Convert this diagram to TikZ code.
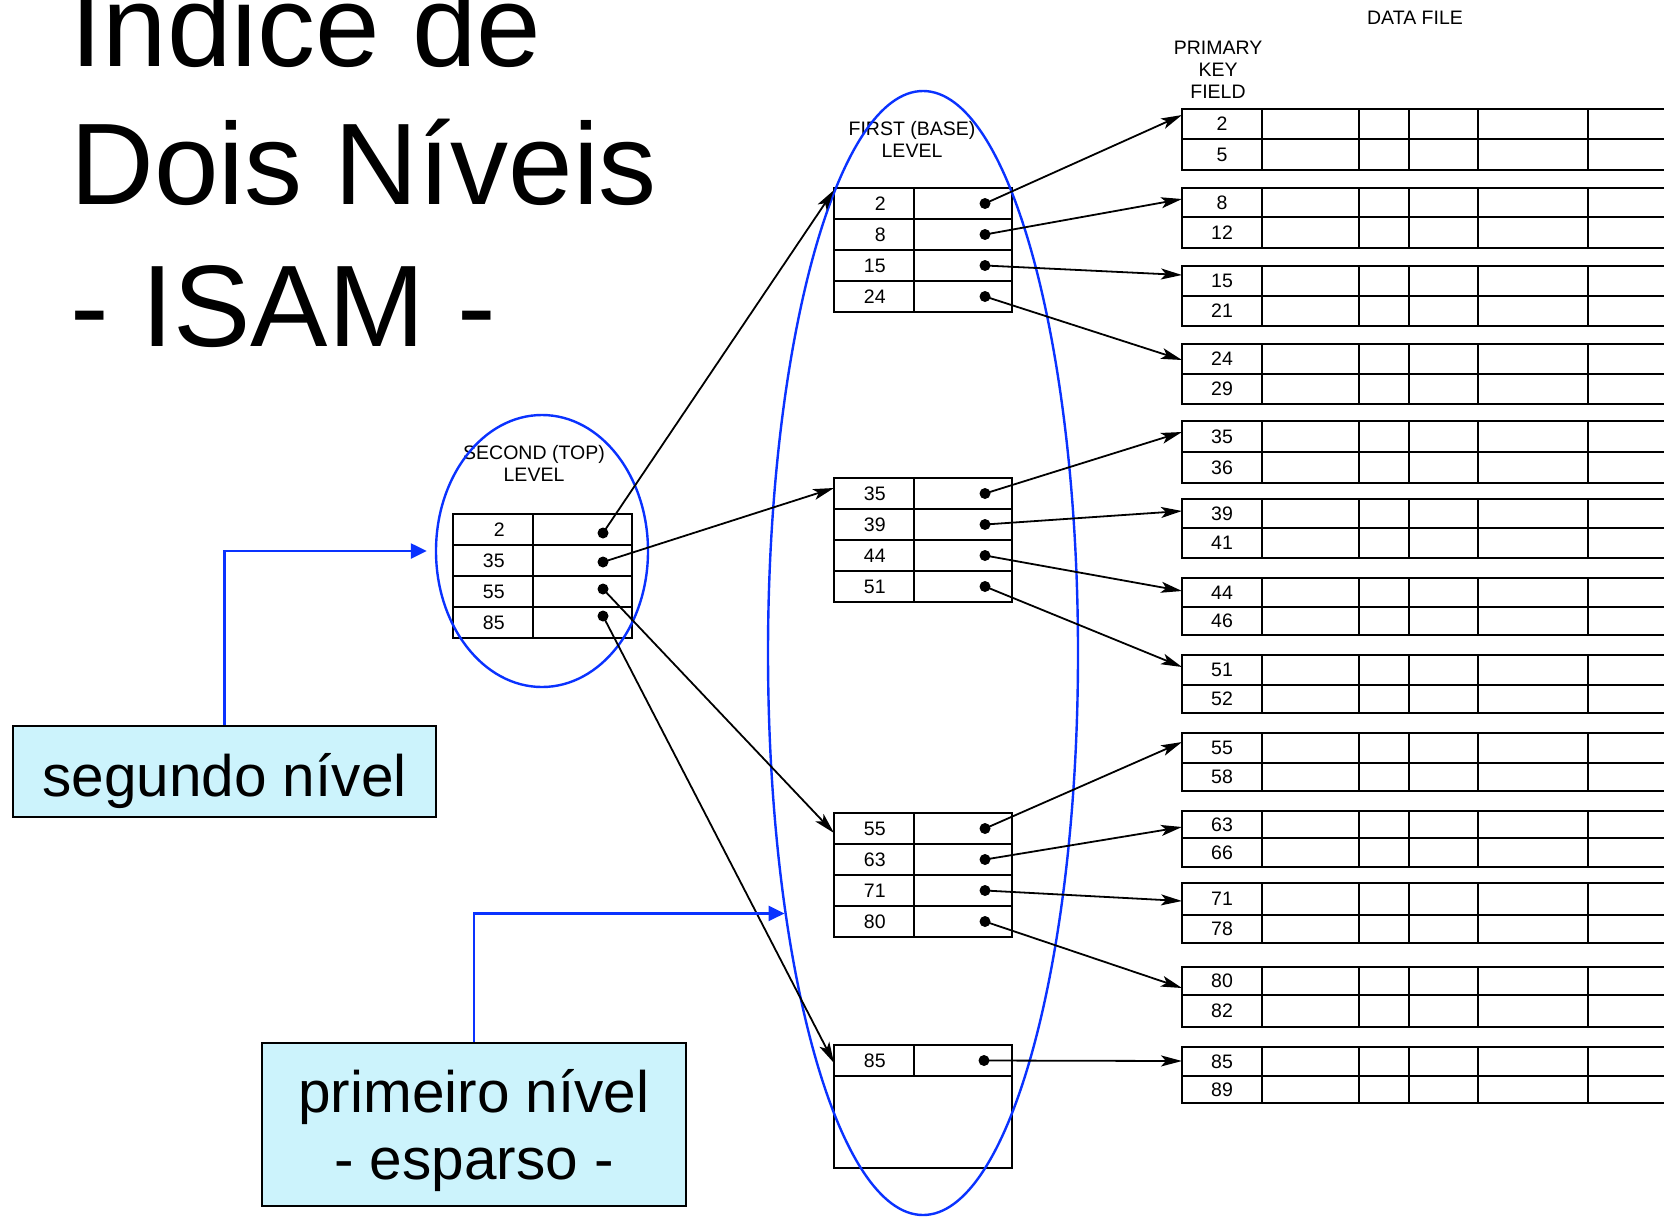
\documentclass[tikz,border=0pt]{standalone}
\usepackage{fontspec}
\setmainfont{Liberation Sans}
\usetikzlibrary{arrows.meta,shapes.geometric,calc}
\definecolor{hlblue}{RGB}{10,50,255}
\definecolor{boxcyan}{RGB}{204,243,252}
\begin{document}
\begin{tikzpicture}[x=0.5pt,y=-0.5pt,
  tbl/.style={line width=1pt},
  iblock/.style={draw,line width=1pt,anchor=north west,minimum width=89pt,inner sep=0pt,outer sep=0pt},
  dbox/.style={draw,line width=1pt,anchor=north west,minimum width=259pt,inner sep=0pt,outer sep=0pt},
  arr/.style={line width=0.9pt,-{Stealth[length=10.5pt,width=5.5pt,inset=2.5pt]}},
  ptr/.style={circle,fill=black,inner sep=0pt,minimum size=5.5pt},
  smalltxt/.style={font=\fontsize{9.75}{11}\selectfont,inner sep=0pt},
  titletxt/.style={font=\fontsize{58}{70}\selectfont,inner sep=0pt,anchor=base west},
  lbl/.style={draw,fill=boxcyan,line width=1pt,inner sep=0pt,font=\fontsize{29.25}{33.5}\selectfont,align=center},
  blueell/.style={draw=hlblue,line width=1.2pt,ellipse,inner sep=0pt},
  blueline/.style={draw=hlblue,line width=1.2pt,-{Triangle[length=8pt,width=7.5pt]}}
]
\useasboundingbox (0,0) rectangle (1664,1216);
\clip (0,0) rectangle (1664,1216);

% title
\node[titletxt] (T1) at (70,66) {Índice de};
\node[titletxt] (T2) at (70,204) {Dois Níveis};
\node[titletxt] (T3) at (70,346) {- ISAM -};

% data file
\node[smalltxt] (DF) at (1415,18) {DATA FILE};
\node[smalltxt,align=center] (PK) at (1218,69.5) {PRIMARY\\KEY\\FIELD};
\foreach \i/\tp/\md/\bt/\ka/\kb in {1/109/139/170/2/5, 2/188/217/248/8/12, 3/266/296/326/15/21, 4/344/374/404/24/29, 5/421/452/483/35/36, 6/499/528/558/39/41, 7/578/607/635/44/46, 8/655/685/713/51/52, 9/733/763/791/55/58, 10/811/838/867/63/66, 11/883/915/943/71/78, 12/967/995/1027/80/82, 13/1047/1076/1103/85/89}{
  \pgfmathsetmacro\hh{(\bt-\tp)/2}
  \node[dbox,minimum height=\hh pt] (G\i) at (1182,\tp) {};
  \draw[tbl] ($(G\i.north west)+(0,\md-\tp)$) -- ++(520,0);
  \foreach \c in {80,177,227,296,406} \draw[tbl] ($(G\i.north west)+(\c,0)$) -- ++(0,\bt-\tp);
  \node[smalltxt] (ga\i) at ($(G\i.north west)+(40,{(\md-\tp)/2})$) {\ka};
  \node[smalltxt] (gb\i) at ($(G\i.north west)+(40,{(\md+\bt)/2-\tp})$) {\kb};
}

% first level blocks
\node[smalltxt,align=center] (FL) at (912,139) {FIRST (BASE)\\LEVEL};
\foreach \bi/\by/\ka/\kb/\kc/\kd in {1/188/2/8/15/24, 2/478/35/39/44/51, 3/813/55/63/71/80}{
  \node[iblock,minimum height=62pt] (B\bi) at (834,\by) {};
  \draw[tbl] ($(B\bi.north west)+(80,0)$) -- ++(0,124);
  \foreach \r in {1,2,3} \draw[tbl] ($(B\bi.north west)+(0,31*\r)$) -- ++(178,0);
  \foreach \k/\v in {1/\ka,2/\kb,3/\kc,4/\kd}{
    \node[smalltxt,anchor=east] (k\bi\k) at ($(B\bi.north west)+(52,{15.5+31*(\k-1)})$) {\v};
    \node[ptr] (p\bi\k) at ($(B\bi.north west)+(151,{15.5+31*(\k-1)})$) {};
  }
}
\node[iblock,minimum height=61.5pt] (B4) at (834,1045) {};
\draw[tbl] ($(B4.north west)+(80,0)$) -- ++(0,31);
\draw[tbl] ($(B4.north west)+(0,31)$) -- ++(178,0);
\node[smalltxt,anchor=east] (k41) at ($(B4.north west)+(52,15.5)$) {85};
\node[ptr] (p41) at ($(B4.north west)+(150,15.5)$) {};

% second level block
\node[smalltxt,align=center] (SL) at (534,463) {SECOND (TOP)\\LEVEL};
\node[iblock,minimum width=89.5pt,minimum height=62pt] (B0) at (453,514) {};
\draw[tbl] ($(B0.north west)+(80,0)$) -- ++(0,124);
\foreach \r in {1,2,3} \draw[tbl] ($(B0.north west)+(0,31*\r)$) -- ++(179,0);
\foreach \k/\v/\dy in {1/2/19,2/35/48,3/55/75,4/85/102}{
  \node[smalltxt,anchor=east] (k0\k) at ($(B0.north west)+(52,{15.5+31*(\k-1)})$) {\v};
  \node[ptr] (s\k) at ($(B0.north west)+(150,\dy)$) {};
}

% blue ellipses
\node[blueell,minimum width=106pt,minimum height=136pt] (E2) at (542,551) {};
\node[blueell,minimum width=155pt,minimum height=562pt] (E1) at (923,653) {};

% second -> first level
\draw[arr] (s1.center) -- ([yshift=-1pt]B1.north west);
\draw[arr] (s2.center) -- ([yshift=-5pt]B2.north west);
\draw[arr] (s3.center) -- ([yshift=-10pt]B3.north west);
\draw[arr] (s4.center) -- ([yshift=-9pt]B4.north west);

% first level -> data file
\draw[arr] (p11.center) -- ([yshift=-3pt]G1.north west);
\draw[arr] (p12.center) -- ([yshift=-5.5pt]G2.north west);
\draw[arr] (p13.center) -- ([yshift=-4.5pt]G3.north west);
\draw[arr] (p14.center) -- ([yshift=-8pt]G4.north west);
\draw[arr] (p21.center) -- ([yshift=-5.5pt]G5.north west);
\draw[arr] (p22.center) -- ([yshift=-6pt]G6.north west);
\draw[arr] (p23.center) -- ([yshift=-6.5pt]G7.north west);
\draw[arr] (p24.center) -- ([yshift=-6pt]G8.north west);
\draw[arr] (p31.center) -- ([yshift=-4.5pt]G9.north west);
\draw[arr] (p32.center) -- ([yshift=-8pt]G10.north west);
\draw[arr] (p33.center) -- ([yshift=-9pt]G11.north west);
\draw[arr] (p34.center) -- ([yshift=-10.5pt]G12.north west);
\draw[arr] (p41.center) -- ([yshift=-7pt]G13.north west);

% label boxes
\node[lbl,minimum width=211.5pt,minimum height=45.5pt] (S) at (224.5,771.5) {\rule{0pt}{30.65pt}segundo nível};
\node[lbl,minimum width=212pt,minimum height=81.5pt] (P) at (474,1124.5) {\rule{0pt}{28pt}primeiro nível\\- esparso -};
\draw[blueline] (S.north) |- ([xshift=-4pt]E2.west);
\draw[blueline] (P.north) |- (E1.242);
\end{tikzpicture}
\end{document}
